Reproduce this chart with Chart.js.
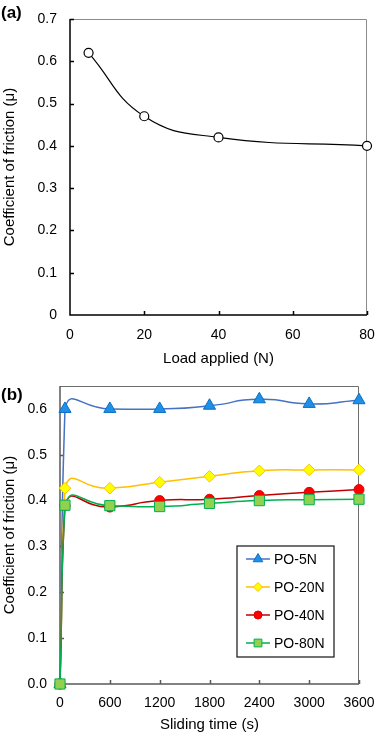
<!DOCTYPE html>
<html>
<head>
<meta charset="utf-8">
<script src="https://cdn.jsdelivr.net/npm/chart.js@4.4.0/dist/chart.umd.min.js"></script>
<style>
	html, body { margin: 0; padding: 0; background: #fff; }
	#page { position: relative; width: 377px; height: 735px; overflow: hidden; font-family: "Liberation Sans", Arial, sans-serif; }
	canvas { position: absolute; left: 0; }
	.tag { position: absolute; left: 1px; font-weight: bold; font-size: 17px; line-height: 20px; color: #000; }
</style>
</head>
<body>
<div id="page">
	<canvas id="chartLoad" width="377" height="368" style="top:0px"></canvas>
	<canvas id="chartTime" width="377" height="367" style="top:368px"></canvas>
	<div class="tag" style="top:3px">(a)</div>
	<div class="tag" style="top:385px">(b)</div>
</div>
<script>
// (a) friction vs load
var loadN   = [5, 20, 40, 80];
var cofLoad = [0.62, 0.47, 0.42, 0.40];

// (b) friction vs sliding time
var timeS  = [0, 60, 600, 1200, 1800, 2400, 3000, 3600];
var po5N   = [0, 0.600, 0.600, 0.600, 0.607, 0.621, 0.611, 0.619];
var po20N  = [0, 0.427, 0.427, 0.440, 0.453, 0.465, 0.467, 0.467];
var po40N  = [0, 0.389, 0.386, 0.400, 0.403, 0.411, 0.418, 0.424];
var po80N  = [0, 0.390, 0.389, 0.387, 0.394, 0.400, 0.402, 0.403];
var seriesNames = ['PO-5N', 'PO-20N', 'PO-40N', 'PO-80N'];

Chart.defaults.font.family = '"Liberation Sans", Arial, sans-serif';
Chart.defaults.color = '#000';

function toPoints(xs, ys) {
	return xs.map(function (x, i) { return {x: x, y: ys[i]}; });
}

// keep the plot area where the layout padding puts it
function fixX(h) {
	return function (s) { s.height = h; s.paddingLeft = 0; s.paddingRight = 0; };
}
function fixY(w) {
	return function (s) { s.width = w; s.paddingTop = 0; s.paddingBottom = 0; };
}

// plot box + axis lines + inward tick marks
var frameBox = {
	id: 'frameBox',
	beforeDatasetsDraw: function (chart, args, opts) {
		var ctx = chart.ctx, a = chart.chartArea;
		var sx = chart.scales.x, sy = chart.scales.y;
		ctx.save();
		ctx.lineWidth = 1;
		ctx.strokeStyle = opts.boxColor;
		ctx.beginPath();
		ctx.moveTo(a.left, a.top + 0.5);
		ctx.lineTo(a.right - 0.5, a.top + 0.5);
		ctx.lineTo(a.right - 0.5, a.bottom);
		ctx.stroke();

		ctx.strokeStyle = opts.axisColor;
		ctx.lineWidth = 1.5;
		ctx.beginPath();
		ctx.moveTo(a.left, a.top);
		ctx.lineTo(a.left, a.bottom);
		ctx.lineTo(a.right, a.bottom);
		sx.ticks.forEach(function (t, i) {
			var px = Math.round(sx.getPixelForTick(i)) + 0.5;
			if (i == 0) { return; }
			ctx.moveTo(px, a.bottom);
			ctx.lineTo(px, a.bottom - 4);
		});
		sy.ticks.forEach(function (t, i) {
			var py = Math.round(sy.getPixelForTick(i)) + 0.5;
			if (i == 0) { return; }
			ctx.moveTo(a.left, py);
			ctx.lineTo(a.left + 4, py);
		});
		ctx.stroke();
		ctx.restore();
	}
};

// framed legend inside the plot, bottom right
var boxLegend = {
	id: 'boxLegend',
	afterDraw: function (chart, args, opts) {
		if (!opts.show) { return; }
		var ctx = chart.ctx, a = chart.chartArea;
		var w = 97, h = 111;
		var x0 = a.right - 25 - w, y0 = a.bottom - 27 - h;
		ctx.save();
		ctx.fillStyle = '#fff';
		ctx.fillRect(x0, y0, w, h);
		ctx.strokeStyle = '#262626';
		ctx.lineWidth = 1.3;
		ctx.strokeRect(x0, y0, w, h);
		chart.data.datasets.forEach(function (ds, i) {
			var y = y0 + 13 + i * 28;
			ctx.strokeStyle = ds.borderColor;
			ctx.lineWidth = ds.borderWidth;
			ctx.beginPath();
			ctx.moveTo(x0 + 9, y);
			ctx.lineTo(x0 + 33, y);
			ctx.stroke();
			ctx.fillStyle = ds.pointBackgroundColor;
			ctx.strokeStyle = ds.pointBorderColor;
			ctx.lineWidth = 1;
			Chart.helpers.drawPoint(ctx, {pointStyle: ds.pointStyle, rotation: 0, radius: ds.legendRadius, borderWidth: 1}, x0 + 21, y);
			ctx.fillStyle = '#000';
			ctx.font = '14px "Liberation Sans", Arial, sans-serif';
			ctx.textBaseline = 'middle';
			ctx.textAlign = 'left';
			ctx.fillText(ds.label, x0 + 37, y + 1);
		});
		ctx.restore();
	}
};

new Chart(document.getElementById('chartLoad'), {
	type: 'line',
	data: {
		datasets: [{
			label: 'COF',
			data: toPoints(loadN, cofLoad),
			borderColor: '#000',
			borderWidth: 1.2,
			tension: 0.45,
			pointStyle: 'circle',
			pointRadius: 4.5,
			pointBackgroundColor: '#fff',
			pointBorderColor: '#000',
			pointBorderWidth: 1.2,
			clip: false
		}]
	},
	options: {
		responsive: false,
		animation: false,
		devicePixelRatio: 1,
		layout: { padding: {top: 19, right: 10, left: 0, bottom: 0} },
		plugins: {
			legend: { display: false },
			tooltip: { enabled: false },
			frameBox: { boxColor: '#8c8c8c', axisColor: '#000' },
			boxLegend: { show: false }
		},
		scales: {
			x: {
				type: 'linear', min: 0, max: 80,
				grid: { display: false, drawTicks: false }, border: { display: false },
				ticks: { stepSize: 20, padding: 12, font: {size: 14} },
				title: { display: true, text: 'Load applied (N)', font: {size: 15}, padding: {top: 0, bottom: 0} },
				afterFit: fixX(53)
			},
			y: {
				min: 0, max: 0.7,
				grid: { display: false, drawTicks: false }, border: { display: false },
				ticks: { stepSize: 0.1, padding: 13, font: {size: 14} },
				title: { display: true, text: 'Coefficient of friction (μ)', font: {size: 15}, padding: {top: 1, bottom: 0} },
				afterFit: fixY(70)
			}
		}
	},
	plugins: [frameBox, boxLegend]
});

var styleList = [
	{line: '#4472C4', fill: '#1E90E8', edge: '#0B6FC2', shape: 'triangle', r: 7, lr: 5.5},
	{line: '#FFC000', fill: '#FFFF00', edge: '#FFC000', shape: 'rectRot', r: 5.8, lr: 4.5},
	{line: '#C00000', fill: '#FF0000', edge: '#E00000', shape: 'circle', r: 5, lr: 4},
	{line: '#00B050', fill: '#92D050', edge: '#00B050', shape: 'rect', r: 7.2, lr: 5.5}
];
var seriesData = [po5N, po20N, po40N, po80N];

var timeSets = seriesData.map(function (vals, i) {
	var st = styleList[i];
	return {
		label: seriesNames[i],
		data: toPoints(timeS, vals),
		borderColor: st.line,
		borderWidth: 1.5,
		tension: 0.65,
		pointStyle: st.shape,
		pointRadius: st.r,
		pointBackgroundColor: st.fill,
		pointBorderColor: st.edge,
		pointBorderWidth: 1,
		legendRadius: st.lr,
		order: 4 - i,
		clip: false
	};
});

new Chart(document.getElementById('chartTime'), {
	type: 'line',
	data: { datasets: timeSets },
	options: {
		responsive: false,
		animation: false,
		devicePixelRatio: 1,
		layout: { padding: {top: 18, right: 18, left: 0, bottom: 0} },
		plugins: {
			legend: { display: false },
			tooltip: { enabled: false },
			frameBox: { boxColor: '#6e6e6e', axisColor: '#595959' },
			boxLegend: { show: true }
		},
		scales: {
			x: {
				type: 'linear', min: 0, max: 3600,
				grid: { display: false, drawTicks: false }, border: { display: false },
				ticks: { stepSize: 600, padding: 11, font: {size: 14}, callback: function (v) { return String(v); } },
				title: { display: true, text: 'Sliding time (s)', font: {size: 15}, padding: {top: 0, bottom: 1} },
				afterFit: fixX(51)
			},
			y: {
				min: 0, max: 0.65,
				grid: { display: false, drawTicks: false }, border: { display: false },
				ticks: { stepSize: 0.1, padding: 13, font: {size: 14}, callback: function (v) { return v.toFixed(1); } },
				afterBuildTicks: function (s) {
					s.ticks = s.ticks.filter(function (t) { return Math.abs(t.value * 10 - Math.round(t.value * 10)) < 1e-6; });
				},
				title: { display: true, text: 'Coefficient of friction (μ)', font: {size: 15}, padding: {top: 1, bottom: 0} },
				afterFit: fixY(60)
			}
		}
	},
	plugins: [frameBox, boxLegend]
});
</script>
</body>
</html>
